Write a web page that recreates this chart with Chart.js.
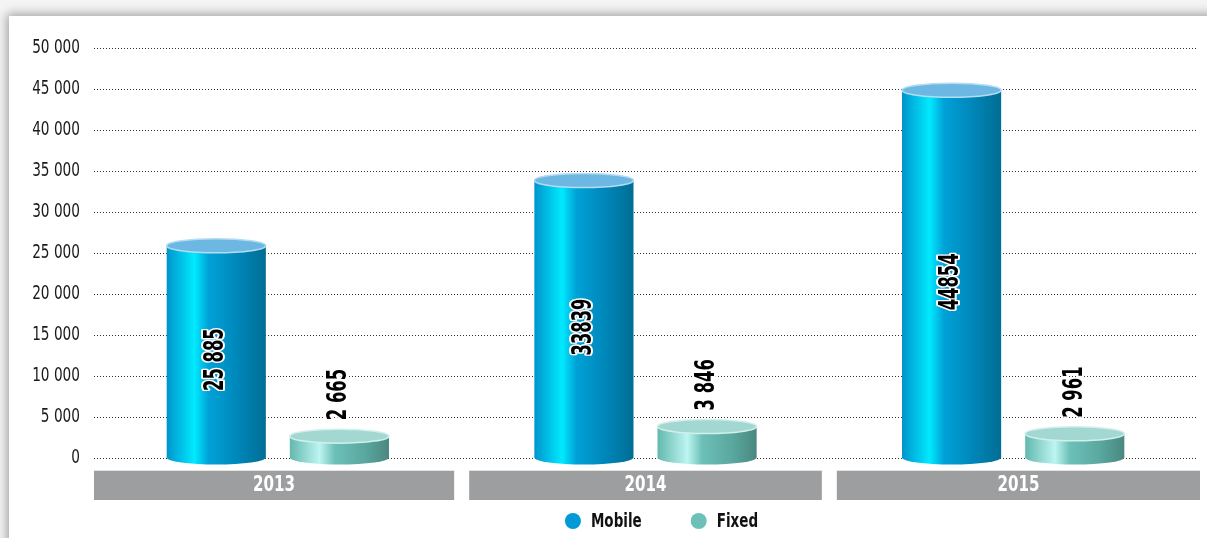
<!DOCTYPE html>
<html>
<head>
<meta charset="utf-8">
<script src="https://cdn.jsdelivr.net/npm/chart.js@4/dist/chart.umd.min.js"></script>
<style>
  html, body { margin: 0; padding: 0; }
  body {
    width: 1207px; height: 538px; overflow: hidden; position: relative;
    background: #f4f4f4;
  }
  #panel {
    position: absolute; left: 9px; top: 16px; right: -20px; bottom: -20px;
    background: #fff;
    box-shadow: -2px -2px 10px rgba(0,0,0,0.35);
  }
  #wrap { position: absolute; left: 0; top: 0; width: 1207px; height: 538px; }
</style>
</head>
<body>
<div id="panel"></div>
<div id="wrap"><canvas id="myChart" width="1207" height="538"></canvas></div>
<script>
const years = ['2013', '2014', '2015'];
const mobile = [25885, 33839, 44854];
const fixed = [2665, 3846, 2961];
// the printed labels group thousands for some values only
const mobileSpaced = [true, false, false];
const fixedSpaced = [true, true, true];
const yTicks = [0, 5000, 10000, 15000, 20000, 25000, 30000, 35000, 40000, 45000, 50000];

const FONT = "'DejaVu Sans Condensed', 'DejaVu Sans', sans-serif";

function spaced(v){
  return String(v).replace(/\B(?=(\d{3})+(?!\d))/g, ' ');
}

// text squeezed horizontally to get a narrow face
function narrowText(ctx, txt, x, y, sx, align, outline){
  ctx.save();
  ctx.translate(x, y);
  ctx.scale(sx, 1);
  ctx.textAlign = align;
  if (outline) {
    ctx.strokeStyle = '#fff';
    ctx.lineWidth = 4;
    ctx.lineJoin = 'round';
    ctx.strokeText(txt, 0, 0);
  }
  ctx.fillText(txt, 0, 0);
  ctx.restore();
}

const looks = [
  { body: [[0,'#0094cc'],[0.28,'#00eaff'],[0.42,'#00a2d8'],[0.7,'#0088bb'],[1,'#006d94']],
    top: '#6cb8e2', rim: '#b4dcf2', key: '#009ad6' },
  { body: [[0,'#63b8ae'],[0.3,'#bdf5f1'],[0.45,'#6cc0b8'],[0.75,'#5aa89f'],[1,'#4a8880']],
    top: '#a2d8d1', rim: '#d2efeb', key: '#6cc0b8' }
];

// gray category boxes, y tick labels and legend
const frame = {
  id: 'frame',
  beforeDraw(chart){
    const {ctx, chartArea, scales:{x, y}} = chart;
    const half = (x.getPixelForValue(1) - x.getPixelForValue(0)) / 2;
    ctx.save();
    ctx.textBaseline = 'middle';
    years.forEach((yr, i) => {
      const c = x.getPixelForValue(i);
      const l = c - half + (i > 0 ? 7.5 : 0);
      const r = c + half - (i < years.length - 1 ? 7.5 : -3);
      ctx.fillStyle = '#9d9ea0';
      ctx.fillRect(l, chartArea.bottom + 13, r - l, 29);
      ctx.fillStyle = '#e2e2e2';
      ctx.fillRect(l, chartArea.bottom + 12, r - l, 1);
      ctx.fillStyle = '#fff';
      ctx.font = 'bold 21px ' + FONT;
      narrowText(ctx, yr, (l + r) / 2, chartArea.bottom + 28, 0.8, 'center');
    });
    ctx.fillStyle = '#1a1a1a';
    ctx.font = '19px ' + FONT;
    y.ticks.forEach(t => {
      narrowText(ctx, spaced(t.value), chartArea.left - 14, y.getPixelForValue(t.value), 0.8, 'right');
    });
    // legend
    ctx.font = 'bold 20px ' + FONT;
    const items = chart.data.datasets.map((ds, i) => ({
      text: ds.label, color: looks[i].key, w: ctx.measureText(ds.label).width * 0.75
    }));
    const total = items.reduce((s, it) => s + 16 + 10 + it.w, 0) + 49 * (items.length - 1);
    let lx = (chartArea.left + chartArea.right) / 2 + 16 - total / 2;
    const ly = chartArea.bottom + 63;
    items.forEach(it => {
      ctx.beginPath();
      ctx.arc(lx + 8, ly, 8, 0, Math.PI * 2);
      ctx.fillStyle = it.color;
      ctx.fill();
      ctx.fillStyle = '#111';
      narrowText(ctx, it.text, lx + 26, ly + 1, 0.75, 'left');
      lx += 26 + it.w + 49;
    });
    ctx.restore();
  }
};

// bars drawn as shaded cylinders
const cylinders = {
  id: 'cylinders',
  beforeDatasetsDraw(chart){
    const ctx = chart.ctx;
    chart.data.datasets.forEach((ds, di) => {
      const meta = chart.getDatasetMeta(di);
      const look = looks[di];
      meta.data.forEach(bar => {
        const l = bar.x - bar.width / 2, r = bar.x + bar.width / 2;
        const rx = bar.width / 2, ry = 7;
        const top = bar.y, base = bar.base;
        const g = ctx.createLinearGradient(l, 0, r, 0);
        look.body.forEach(s => g.addColorStop(s[0], s[1]));
        ctx.save();
        ctx.beginPath();
        ctx.moveTo(l, top);
        ctx.lineTo(l, base);
        ctx.ellipse(bar.x, base, rx, ry, 0, Math.PI, 0, true);
        ctx.lineTo(r, top);
        ctx.closePath();
        ctx.fillStyle = g;
        ctx.fill();
        ctx.beginPath();
        ctx.ellipse(bar.x, top, rx, ry, 0, 0, Math.PI * 2);
        ctx.fillStyle = look.top;
        ctx.fill();
        ctx.lineWidth = 1.5;
        ctx.strokeStyle = look.rim;
        ctx.stroke();
        ctx.restore();
      });
    });
    return false;
  },
  afterDraw(chart){
    const ctx = chart.ctx;
    ctx.save();
    ctx.font = 'bold 26px ' + FONT;
    ctx.textBaseline = 'middle';
    ctx.fillStyle = '#000';
    chart.data.datasets.forEach((ds, di) => {
      const meta = chart.getDatasetMeta(di);
      meta.data.forEach((bar, i) => {
        const v = ds.data[i];
        const txt = ds.spaced[i] ? spaced(v) : String(v);
        ctx.save();
        if (di === 0) {
          ctx.translate(bar.x, (bar.y + bar.base) / 2 + 8);
          ctx.rotate(-Math.PI / 2);
          narrowText(ctx, txt, 0, 0, 0.7, 'center', true);
        } else {
          ctx.translate(bar.x, bar.y - 16);
          ctx.rotate(-Math.PI / 2);
          narrowText(ctx, txt, 0, 0, 0.7, 'left', true);
        }
        ctx.restore();
      });
    });
    ctx.restore();
  }
};

const ctx = document.getElementById('myChart').getContext('2d');
const myChart = new Chart(ctx, {
  type: 'bar',
  data: {
    labels: years,
    datasets: [{
      label: 'Mobile',
      data: mobile,
      spaced: mobileSpaced,
      backgroundColor: '#009ad6',
      borderWidth: 0
    }, {
      label: 'Fixed',
      data: fixed,
      spaced: fixedSpaced,
      backgroundColor: '#6cc0b8',
      borderWidth: 0
    }]
  },
  options: {
    responsive: false,
    animation: false,
    devicePixelRatio: 1,
    categoryPercentage: 0.67,
    barPercentage: 0.805,
    layout: { padding: { left: 9, right: 10, top: 48, bottom: 80 } },
    plugins: {
      tooltip: { enabled: false },
      legend: { display: false }
    },
    scales: {
      x: {
        grid: { display: false },
        border: { display: false },
        ticks: { display: false },
        afterFit(scale){ scale.height = 0; }
      },
      y: {
        min: 0,
        max: 50000,
        afterBuildTicks(scale){ scale.ticks = yTicks.map(v => ({ value: v })); },
        grid: { color: '#333', lineWidth: 1, drawTicks: false },
        border: { display: false, dash: [1, 2] },
        ticks: { display: false },
        afterFit(scale){ scale.width = 85; }
      }
    }
  },
  plugins: [frame, cylinders]
});
</script>
</body>
</html>
